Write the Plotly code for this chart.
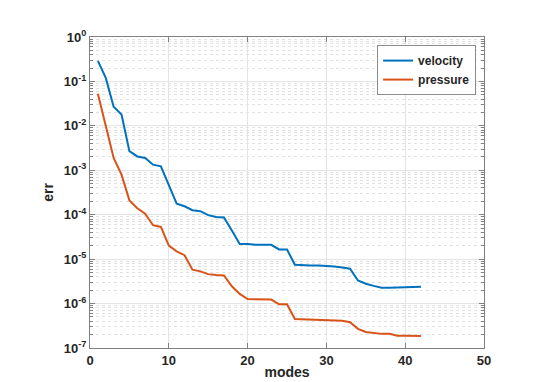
import plotly.graph_objects as go

# Number of modes retained
modes = list(range(1, 43))

# Reconstruction error of the velocity field
velocity_err = [
    2.9e-1, 1.2e-1, 2.7e-2, 1.8e-2, 2.7e-3, 2.05e-3, 1.9e-3, 1.34e-3, 1.23e-3,
    4.6e-4, 1.78e-4, 1.55e-4, 1.26e-4, 1.2e-4, 9.8e-5, 8.9e-5, 8.7e-5,
    4.4e-5, 2.2e-5, 2.2e-5, 2.1e-5, 2.1e-5, 2.1e-5, 1.65e-5, 1.65e-5,
    7.5e-6, 7.3e-6, 7.2e-6, 7.2e-6, 7.1e-6, 6.8e-6, 6.5e-6, 6.1e-6,
    3.3e-6, 2.8e-6, 2.5e-6, 2.28e-6, 2.28e-6, 2.35e-6, 2.33e-6, 2.35e-6,
    2.38e-6]

# Reconstruction error of the pressure field
pressure_err = [
    5.3e-2, 9.8e-3, 1.9e-3, 8.0e-4, 2.1e-4, 1.4e-4, 1.05e-4, 5.8e-5, 5.3e-5,
    2.02e-5, 1.5e-5, 1.23e-5, 5.8e-6, 5.3e-6, 4.6e-6, 4.4e-6, 4.3e-6,
    2.45e-6, 1.65e-6, 1.26e-6, 1.25e-6, 1.25e-6, 1.23e-6, 9.6e-7, 9.6e-7,
    4.5e-7, 4.45e-7, 4.4e-7, 4.4e-7, 4.35e-7, 4.2e-7, 4.1e-7, 3.8e-7,
    2.7e-7, 2.3e-7, 2.15e-7, 2.08e-7, 2.08e-7, 1.88e-7, 1.88e-7, 1.87e-7,
    1.87e-7]

x_ticks = [0, 10, 20, 30, 40, 50]
y_exponents = [0, -1, -2, -3, -4, -5, -6, -7]
y_tick_labels = ['10<sup>%d</sup>' % e for e in y_exponents]

# MATLAB-like style
axis_color = '#808080'
major_grid = '#e4e4e4'
minor_grid = '#e2e2e2'
text_color = '#262626'
font_family = 'Liberation Sans, Arial, sans-serif'

fig = go.Figure()
fig.add_trace(go.Scatter(
    x=modes, y=velocity_err, mode='lines', name='velocity',
    line=dict(color='#0072BD', width=2)))
fig.add_trace(go.Scatter(
    x=modes, y=pressure_err, mode='lines', name='pressure',
    line=dict(color='#D95319', width=2)))

fig.update_layout(
    width=540, height=382,
    margin=dict(l=82, r=64, t=29, b=42),
    paper_bgcolor='white',
    plot_bgcolor='white',
    font=dict(family=font_family, color=text_color, size=13, weight='bold'),
    showlegend=True,
    legend=dict(
        x=0.98, y=0.974, xanchor='right', yanchor='top',
        bgcolor='white', bordercolor='#8c8c8c', borderwidth=1,
        font=dict(size=12, weight='bold', color=text_color),
        tracegroupgap=0, itemwidth=30))

fig.update_xaxes(
    range=[0, 50], tickvals=x_ticks, ticks='inside', ticklen=5,
    tickcolor=axis_color, showline=True, linecolor=axis_color, linewidth=1,
    mirror='ticks', showgrid=True, gridcolor=major_grid, gridwidth=1,
    zeroline=False, automargin=False,
    tickfont=dict(size=13, weight='bold', color=text_color),
    title=dict(text='modes', standoff=0,
               font=dict(size=14, weight='bold', color=text_color)))

fig.update_yaxes(
    type='log', range=[-7, 0],
    tickvals=[10 ** e for e in y_exponents], ticktext=y_tick_labels,
    ticks='inside', ticklen=5, tickcolor=axis_color,
    showline=True, linecolor=axis_color, linewidth=1, mirror='ticks',
    showgrid=True, gridcolor=major_grid, gridwidth=1, zeroline=False,
    automargin=False,
    tickfont=dict(size=13, weight='bold', color=text_color),
    minor=dict(dtick='D1', showgrid=True, gridcolor=minor_grid,
               griddash='dot', ticks='inside', ticklen=3,
               tickcolor=axis_color),
    title=dict(text='err', standoff=6,
               font=dict(size=14, weight='bold', color=text_color)))

fig.write_html('out.html')
